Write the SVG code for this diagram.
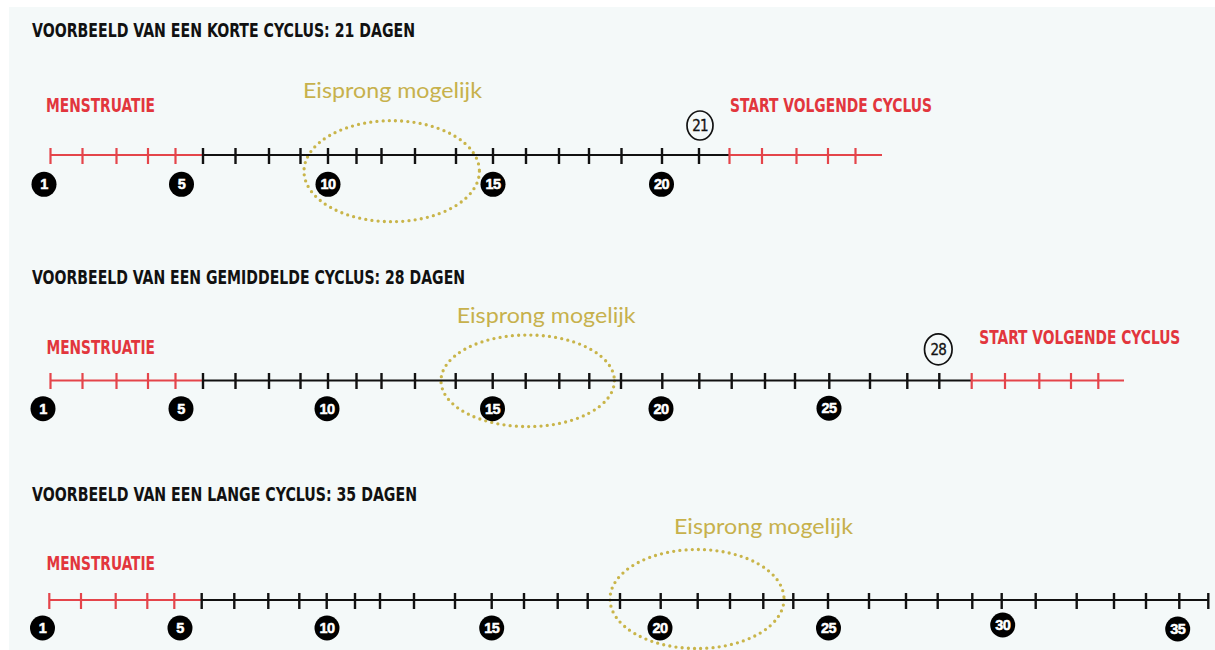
<svg xmlns="http://www.w3.org/2000/svg" width="1215" height="650" viewBox="0 0 1215 650">
<style>
.title{font-family:"DejaVu Sans Condensed","Liberation Sans",sans-serif;font-size:19px;font-weight:bold;fill:#111}
.red{font-family:"DejaVu Sans Condensed","Liberation Sans",sans-serif;font-size:20px;font-weight:bold;fill:#e2363d}
.ovu{font-family:"Lato","Open Sans",sans-serif;font-size:22px;fill:#c7b14c}
.axis-red{stroke:#e4454b;stroke-width:2;fill:none}
.axis-blk{stroke:#111;stroke-width:2.2;fill:none}
.tick-red{stroke:#e4454b;stroke-width:2.2;fill:none}
.tick-blk{stroke:#111;stroke-width:2.4;fill:none}
.dots{fill:none;stroke:#c9b54a;stroke-width:3.3;stroke-dasharray:0 6.2;stroke-linecap:round}
.num circle{fill:#000}
.num text{font-family:"Liberation Sans",Arial,sans-serif;font-weight:bold;font-size:14.5px;fill:#fff;stroke:#fff;stroke-width:0.5;text-anchor:middle;letter-spacing:-0.6px}
.hand ellipse{fill:none;stroke:#111;stroke-width:1.7}
.hand text{font-family:"DejaVu Sans Condensed","Liberation Sans",sans-serif;font-size:15px;fill:#111;stroke:#111;stroke-width:0.3;text-anchor:middle;letter-spacing:-0.8px}
</style>
<rect width="1215" height="650" fill="#ffffff"/>
<rect x="9" y="7" width="1206" height="643" fill="#f4f9f9"/>

<!-- Row 1 -->
<g id="row1-title"><text class="title" x="32" y="37" textLength="383" lengthAdjust="spacingAndGlyphs">VOORBEELD VAN EEN KORTE CYCLUS: 21 DAGEN</text></g>
<g id="row1-menstruatie"><text class="red" x="46" y="112" textLength="109" lengthAdjust="spacingAndGlyphs">MENSTRUATIE</text></g>
<g id="row1-eisprong"><text class="ovu" x="303" y="98" textLength="179" lengthAdjust="spacingAndGlyphs">Eisprong mogelijk</text>
<ellipse class="dots" cx="391.7" cy="171.2" rx="87.7" ry="50.5"/></g>
<g id="row1-start"><text class="red" x="730" y="112" textLength="202" lengthAdjust="spacingAndGlyphs">START VOLGENDE CYCLUS</text></g>
<g id="row1-timeline">
<path class="axis-red" d="M50 155H203"/>
<path class="tick-red" d="M50.5 148V164M82.5 148V164M116.5 148V164M148 148V164M175.5 148V164"/>
<path class="axis-blk" d="M203 155H729"/>
<path class="tick-blk" d="M203 148V164M235.5 148V164M269 148V164M300.5 148V164M328 148V164M356.5 148V164M381.5 148V164M415 148V164M456 148V164M493 148V164M526 148V164M559 148V164M589 148V164M621.5 148V164M662 148V164M699 148V164"/>
<path class="axis-red" d="M729 155H882"/>
<path class="tick-red" d="M729.5 148V164M762 148V164M796.5 148V164M828 148V164M855.5 148V164"/>
</g>
<g id="row1-day21" class="hand"><ellipse cx="700" cy="125.5" rx="13" ry="14.5"/><text x="700" y="131">21</text></g>
<g id="row1-numbers" class="num">
<circle cx="44" cy="184.3" r="12.5"/><text x="44" y="189.4">1</text>
<circle cx="181.5" cy="184.3" r="12.5"/><text x="181.5" y="189.4">5</text>
<circle cx="328" cy="184.3" r="12.5"/><text x="328" y="189.4">10</text>
<circle cx="493" cy="184.3" r="12.5"/><text x="493" y="189.4">15</text>
<circle cx="661.5" cy="184.3" r="12.5"/><text x="661.5" y="189.4">20</text>
</g>

<!-- Row 2 -->
<g id="row2-title"><text class="title" x="32" y="283.5" textLength="433" lengthAdjust="spacingAndGlyphs">VOORBEELD VAN EEN GEMIDDELDE CYCLUS: 28 DAGEN</text></g>
<g id="row2-menstruatie"><text class="red" x="46.5" y="354" textLength="108.5" lengthAdjust="spacingAndGlyphs">MENSTRUATIE</text></g>
<g id="row2-eisprong"><text class="ovu" x="456.7" y="322.5" textLength="179" lengthAdjust="spacingAndGlyphs">Eisprong mogelijk</text>
<ellipse class="dots" cx="527.7" cy="380.8" rx="86.7" ry="45.8"/></g>
<g id="row2-start"><text class="red" transform="translate(979.3 344) scale(1 1.15)" x="0" y="0" style="font-size:17.5px" textLength="201" lengthAdjust="spacingAndGlyphs">START VOLGENDE CYCLUS</text></g>
<g id="row2-timeline">
<path class="axis-red" d="M50 380.5H203"/>
<path class="tick-red" d="M50.5 373V389M82.5 373V389M116.5 373V389M148 373V389M175.5 373V389"/>
<path class="axis-blk" d="M203 380.5H972"/>
<path class="tick-blk" d="M203 373V389M235.5 373V389M269 373V389M300.5 373V389M328 373V389M356.5 373V389M381.5 373V389M415 373V389M455.7 373V389M492.7 373V389M525.7 373V389M559.3 373V389M589.3 373V389M621 373V389M662.3 373V389M699.3 373V389M731.7 373V389M765 373V389M795 373V389M829.3 373V389M870 373V389M907.3 373V389M939.3 373V389"/>
<path class="axis-red" d="M972 380.5H1124"/>
<path class="tick-red" d="M971.7 373V389M1005 373V389M1039.3 373V389M1071 373V389M1098.3 373V389"/>
</g>
<g id="row2-day28" class="hand"><ellipse cx="938.3" cy="349.3" rx="13.8" ry="15.5"/><text x="938.3" y="355">28</text></g>
<g id="row2-numbers" class="num">
<circle cx="43" cy="408.7" r="12.5"/><text x="43" y="413.8">1</text>
<circle cx="181" cy="408.7" r="12.5"/><text x="181" y="413.8">5</text>
<circle cx="327" cy="408.7" r="12.5"/><text x="327" y="413.8">10</text>
<circle cx="492.5" cy="408.7" r="12.5"/><text x="492.5" y="413.8">15</text>
<circle cx="661" cy="408.7" r="12.5"/><text x="661" y="413.8">20</text>
<circle cx="829" cy="408.2" r="12.5"/><text x="829" y="413.3">25</text>
</g>

<!-- Row 3 -->
<g id="row3-title"><text class="title" x="32" y="501" textLength="385" lengthAdjust="spacingAndGlyphs">VOORBEELD VAN EEN LANGE CYCLUS: 35 DAGEN</text></g>
<g id="row3-menstruatie"><text class="red" x="46.5" y="569.5" textLength="108.5" lengthAdjust="spacingAndGlyphs">MENSTRUATIE</text></g>
<g id="row3-eisprong"><text class="ovu" x="674" y="533.5" textLength="179" lengthAdjust="spacingAndGlyphs">Eisprong mogelijk</text>
<ellipse class="dots" cx="697" cy="599" rx="87" ry="49.5"/></g>
<g id="row3-timeline">
<path class="axis-red" d="M49 600H202"/>
<path class="tick-red" d="M49.3 593V609M81 593V609M115.7 593V609M147.3 593V609M174.3 593V609"/>
<path class="axis-blk" d="M202 600H1209"/>
<path class="tick-blk" d="M201.7 593V609M234.3 593V609M268.3 593V609M299.3 593V609M326.7 593V609M355 593V609M380 593V609M414 593V609M455 593V609M491.7 593V609M524 593V609M557.7 593V609M587.7 593V609M620 593V609M660.7 593V609M697.7 593V609M730 593V609M763.3 593V609M793.3 593V609M828 593V609M869 593V609M906 593V609M937.7 593V609M972.3 593V609M1001.7 593V609M1035.7 593V609M1076.7 593V609M1114 593V609M1146 593V609M1179.3 593V609M1208.3 593V609"/>
</g>
<g id="row3-numbers" class="num">
<circle cx="42.5" cy="628" r="12.5"/><text x="42.5" y="633.1">1</text>
<circle cx="180" cy="628" r="12.5"/><text x="180" y="633.1">5</text>
<circle cx="327" cy="628" r="12.5"/><text x="327" y="633.1">10</text>
<circle cx="491.7" cy="628" r="12.5"/><text x="491.7" y="633.1">15</text>
<circle cx="660" cy="628" r="12.5"/><text x="660" y="633.1">20</text>
<circle cx="828.5" cy="628" r="12.5"/><text x="828.5" y="633.1">25</text>
<circle cx="1002.7" cy="625" r="12.5"/><text x="1002.7" y="630.1">30</text>
<circle cx="1177.7" cy="629" r="12.5"/><text x="1177.7" y="634.1">35</text>
</g>
</svg>
